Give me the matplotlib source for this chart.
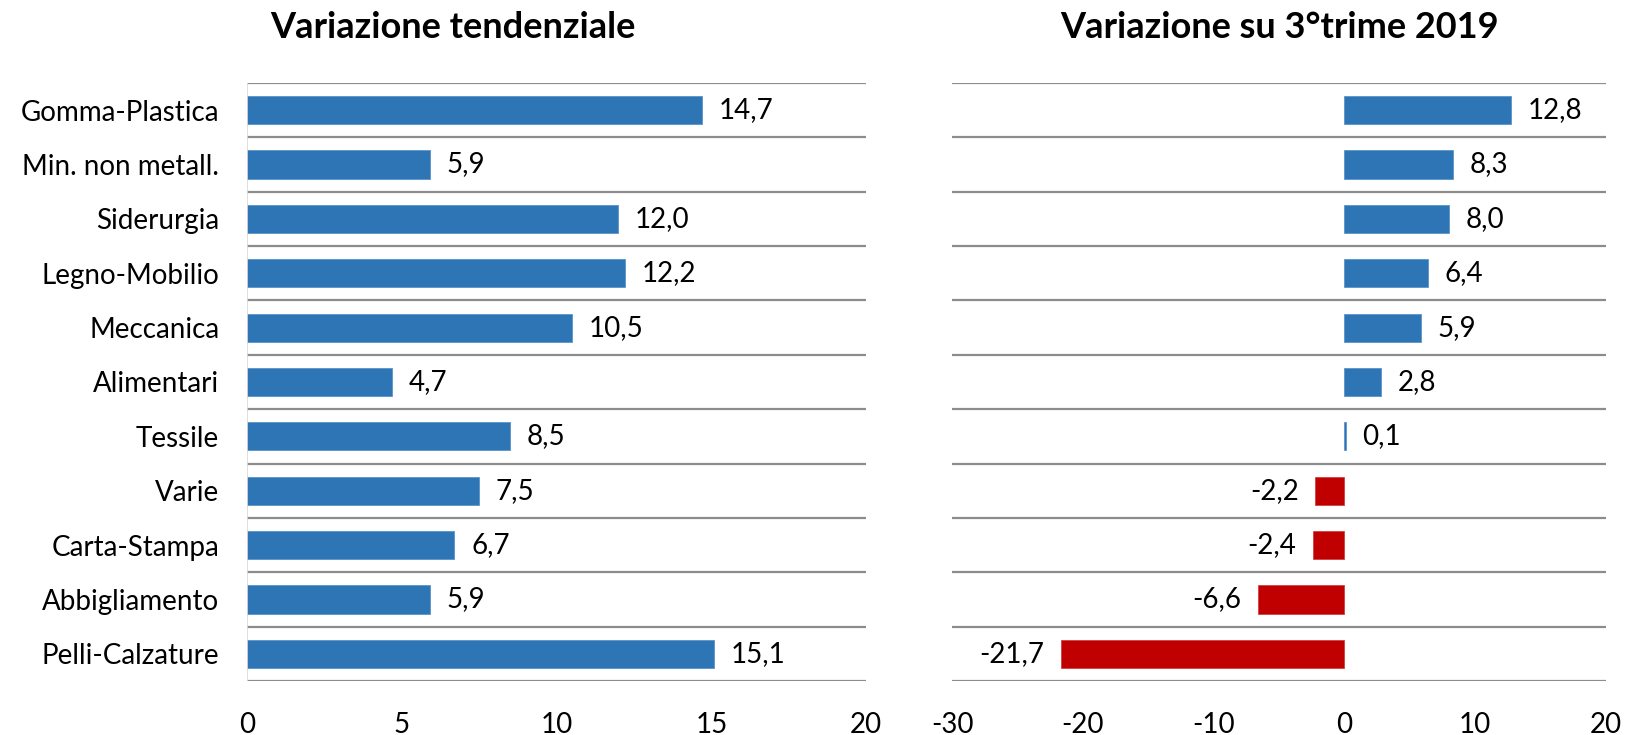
import matplotlib
matplotlib.use("Agg")
import matplotlib.pyplot as plt
import numpy as np

categories = ["Gomma-Plastica", "Min. non metall.", "Siderurgia", "Legno-Mobilio",
              "Meccanica", "Alimentari", "Tessile", "Varie", "Carta-Stampa",
              "Abbigliamento", "Pelli-Calzature"]
var_tendenziale = [14.7, 5.9, 12.0, 12.2, 10.5, 4.7, 8.5, 7.5, 6.7, 5.9, 15.1]
var_trim = [12.8, 8.3, 8.0, 6.4, 5.9, 2.8, 0.1, -2.2, -2.4, -6.6, -21.7]
title_left = "Variazione tendenziale"
title_right = "Variazione su 3°trime 2019"
left_ticks = [0, 5, 10, 15, 20]
right_ticks = [-30, -20, -10, 0, 10, 20]

BLUE = "#2E75B6"
RED = "#C00000"
GRID = "#8c8c8c"
FONT = ["Lato", "DejaVu Sans"]
plt.rcParams["font.family"] = FONT
FS = 20

fig = plt.figure(figsize=(16.25, 7.35), dpi=100)
top, bottom = 1 - 83 / 735, 1 - 681 / 735
axL = fig.add_axes([0.152, bottom, 0.381, top - bottom])
axR = fig.add_axes([0.586, bottom, 0.402, top - bottom])

n = len(categories)
y = np.arange(n)

def style(ax, ticks, lim):
    ax.set_xlim(*lim)
    ax.set_ylim(n - 0.5, -0.5)
    ax.set_xticks(ticks)
    ax.set_xticklabels([str(t) for t in ticks], fontsize=FS)
    ax.tick_params(axis="x", length=0, pad=22)
    ax.set_yticks(np.arange(-0.5, n, 1.0), minor=True)
    ax.grid(which="minor", axis="y", color=GRID, linewidth=1.6)
    ax.tick_params(axis="y", which="minor", length=0)
    for s in ax.spines.values():
        s.set_visible(False)
    ax.set_axisbelow(True)

# Left panel
axL.barh(y, var_tendenziale, height=0.52, color=BLUE, edgecolor="#5b93c9", linewidth=0.6)
style(axL, left_ticks, (0, 20))
axL.set_yticks(y)
axL.set_yticklabels(categories, fontsize=FS)
axL.tick_params(axis="y", which="major", length=0, pad=20)
axL.axvline(0, color="#d9d9d9", linewidth=1.2, zorder=1)
for yi, v in zip(y, var_tendenziale):
    axL.annotate(f"{v:.1f}".replace(".", ","), (v, yi), xytext=(12, 0),
                 textcoords="offset points", va="center", ha="left", fontsize=FS)

# Right panel
colors = [BLUE if v >= 0 else RED for v in var_trim]
edges = ["#5b93c9" if v >= 0 else "#d04040" for v in var_trim]
axR.barh(y, var_trim, height=0.52, color=colors, edgecolor=edges, linewidth=0.6)
style(axR, right_ticks, (-30, 20))
axR.set_yticks([])
for yi, v in zip(y, var_trim):
    if v >= 0:
        axR.annotate(f"{v:.1f}".replace(".", ","), (v, yi), xytext=(12, 0),
                     textcoords="offset points", va="center", ha="left", fontsize=FS)
    else:
        axR.annotate(f"{v:.1f}".replace(".", ","), (v, yi), xytext=(-12, 0),
                     textcoords="offset points", va="center", ha="right", fontsize=FS)

fig.text(453 / 1625, 1 - 28 / 735, title_left, ha="center", va="center",
         fontsize=26, fontweight="bold")
fig.text(1280 / 1625, 1 - 28 / 735, title_right, ha="center", va="center",
         fontsize=26, fontweight="bold")

fig.savefig("out.png", dpi=100)
